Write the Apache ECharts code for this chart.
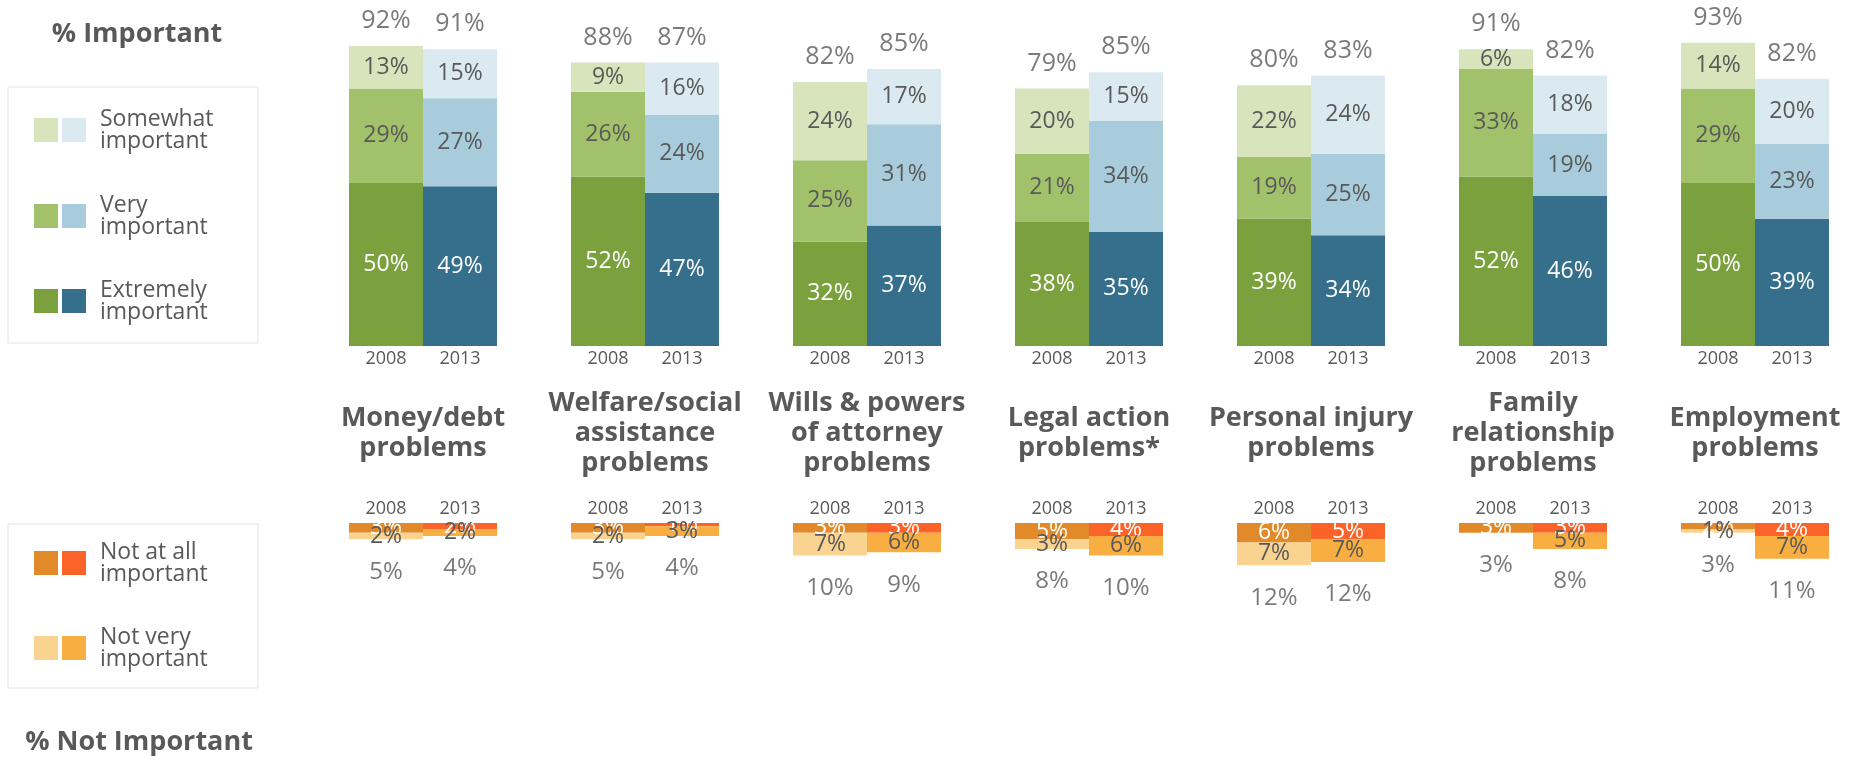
<!DOCTYPE html>
<html>
<head>
<meta charset="utf-8">
<script src="https://cdn.jsdelivr.net/npm/echarts@6/dist/echarts.min.js"></script>
<style>
  html, body { margin: 0; padding: 0; background: #fff; }
  #chart { width: 1862px; height: 759px; }
</style>
</head>
<body>
<div id="chart"></div>
<script>
// problem types (group titles)
const problems = [
  'Money/debt\nproblems',
  'Welfare/social\nassistance\nproblems',
  'Wills & powers\nof attorney\nproblems',
  'Legal action\nproblems*',
  'Personal injury\nproblems',
  'Family\nrelationship\nproblems',
  'Employment\nproblems'
];
const years = ['2008', '2013'];

// % important
const extreme2008 = [50, 52, 32, 38, 39, 52, 50];
const extreme2013 = [49, 47, 37, 35, 34, 46, 39];
const very2008 = [29, 26, 25, 21, 19, 33, 29];
const very2013 = [27, 24, 31, 34, 25, 19, 23];
const somewhat2008 = [13, 9, 24, 20, 22, 6, 14];
const somewhat2013 = [15, 16, 17, 15, 24, 18, 20];
const important2008 = [92, 88, 82, 79, 80, 91, 93];
const important2013 = [91, 87, 85, 85, 83, 82, 82];

// % not important
const notAtAll2008 = [3, 3, 3, 5, 6, 3, 2];
const notAtAll2013 = [2, 1, 3, 4, 5, 3, 4];
const notVery2008 = [2, 2, 7, 3, 7, 0, 1];
const notVery2013 = [2, 3, 6, 6, 7, 5, 7];
const notImportant2008 = [5, 5, 10, 8, 12, 3, 3];
const notImportant2013 = [4, 4, 9, 10, 12, 8, 11];

const GRAY = '#595959';
const FONT = '"Open Sans"';
const colors = {
  somewhat: ['#d8e4bc', '#dbeaf0'],
  very: ['#a2c16b', '#a8ccdc'],
  extreme: ['#7aa13e', '#366f8c'],
  notAtAll: ['#e28a2a', '#fc6329'],
  notVery: ['#fad390', '#f8ae40']
};

// slots: 2008, 2013, gap, 2008, 2013, gap ...
const slotCats = [];
problems.forEach((p, i) => {
  slotCats.push(years[0], years[1]);
  if (i < problems.length - 1) slotCats.push('');
});

function slots(a08, a13, pair) {
  const out = [];
  for (let i = 0; i < problems.length; i++) {
    out.push({ value: a08[i], itemStyle: { color: pair[0] } });
    out.push({ value: a13[i], itemStyle: { color: pair[1] } });
    if (i < problems.length - 1) out.push('-');
  }
  return out;
}
function sums(parts08, parts13) {
  const out = [];
  for (let i = 0; i < problems.length; i++) {
    out.push(parts08.reduce((s, a) => s + a[i], 0));
    out.push(parts13.reduce((s, a) => s + a[i], 0));
    if (i < problems.length - 1) out.push('-');
  }
  return out;
}
function texts(a08, a13) {
  const out = [];
  for (let i = 0; i < problems.length; i++) {
    out.push(a08[i] + '%', a13[i] + '%');
    if (i < problems.length - 1) out.push('');
  }
  return out;
}

const topTotals = texts(important2008, important2013);
const bottomTotals = texts(notImportant2008, notImportant2013);

function barSeries(name, stack, data, labelColor, xi) {
  return {
    name: name,
    type: 'bar',
    stack: stack,
    xAxisIndex: xi,
    yAxisIndex: xi,
    barWidth: '100%',
    data: data,
    label: {
      show: true,
      position: 'inside',
      color: labelColor,
      fontFamily: FONT,
      fontSize: 23,
      formatter: p => (p.value ? p.value + '%' : '')
    }
  };
}

const chart = echarts.init(document.getElementById('chart'));

const legendText = { fontFamily: FONT, fontSize: 23, fill: GRAY, lineHeight: 22 };
function legendRow(y, pair, text) {
  return [
    { type: 'rect', shape: { x: 34, y: y - 12, width: 24, height: 24 }, style: { fill: pair[0] } },
    { type: 'rect', shape: { x: 62, y: y - 12, width: 24, height: 24 }, style: { fill: pair[1] } },
    { type: 'text', x: 100, y: y, style: Object.assign({ text: text, verticalAlign: 'middle' }, legendText) }
  ];
}

const option = {
  animation: false,
  textStyle: { fontFamily: FONT },
  grid: [
    { left: 349, width: 1480, top: 20, height: 326, outerBoundsMode: 'none' },
    { left: 349, width: 1480, top: 523, height: 130, outerBoundsMode: 'none' },
    { left: 312, width: 1554, top: 0, height: 433, outerBoundsMode: 'none' }
  ],
  xAxis: [
    {
      type: 'category', gridIndex: 0, data: slotCats,
      axisLine: { show: false }, axisTick: { show: false },
      axisLabel: { interval: 0, margin: 4, color: GRAY, fontFamily: FONT, fontSize: 18 }
    },
    {
      type: 'category', gridIndex: 1, data: slotCats, position: 'top',
      axisLine: { show: false }, axisTick: { show: false },
      axisLabel: { interval: 0, margin: 5, color: GRAY, fontFamily: FONT, fontSize: 18 }
    },
    {
      type: 'category', gridIndex: 2, data: problems,
      axisLine: { show: false }, axisTick: { show: false },
      axisLabel: {
        interval: 0, margin: 0, verticalAlign: 'middle', lineHeight: 30,
        color: GRAY, fontFamily: FONT, fontSize: 27, fontWeight: 'bold'
      }
    }
  ],
  yAxis: [
    { type: 'value', gridIndex: 0, min: 0, max: 100, show: false },
    { type: 'value', gridIndex: 1, min: 0, max: 40, inverse: true, show: false },
    { type: 'value', gridIndex: 2, min: 0, max: 1, show: false }
  ],
  series: [
    barSeries('Extremely important', 'imp', slots(extreme2008, extreme2013, colors.extreme), '#ffffff', 0),
    barSeries('Very important', 'imp', slots(very2008, very2013, colors.very), GRAY, 0),
    barSeries('Somewhat important', 'imp', slots(somewhat2008, somewhat2013, colors.somewhat), GRAY, 0),
    {
      name: 'Important total',
      type: 'scatter',
      xAxisIndex: 0, yAxisIndex: 0,
      symbolSize: 1,
      itemStyle: { color: 'transparent' },
      data: sums([extreme2008, very2008, somewhat2008], [extreme2013, very2013, somewhat2013]),
      label: {
        show: true, position: 'top', distance: 12,
        color: GRAY, fontFamily: FONT, fontSize: 25,
        formatter: p => topTotals[p.dataIndex]
      }
    },
    barSeries('Not at all important', 'not', slots(notAtAll2008, notAtAll2013, colors.notAtAll), '#ffffff', 1),
    barSeries('Not very important', 'not', slots(notVery2008, notVery2013, colors.notVery), GRAY, 1),
    {
      name: 'Not important total',
      type: 'scatter',
      xAxisIndex: 1, yAxisIndex: 1,
      symbolSize: 1,
      itemStyle: { color: 'transparent' },
      data: sums([notAtAll2008, notVery2008], [notAtAll2013, notVery2013]),
      label: {
        show: true, position: 'bottom', distance: 20,
        color: GRAY, fontFamily: FONT, fontSize: 24,
        formatter: p => bottomTotals[p.dataIndex]
      }
    }
  ],
  graphic: [
    { type: 'text', x: 137, y: 34, style: { text: '% Important', fontFamily: FONT, fontSize: 27, fontWeight: 'bold', fill: GRAY, align: 'center', verticalAlign: 'middle' } },
    { type: 'rect', shape: { x: 8, y: 87, width: 250, height: 256 }, style: { fill: 'none', stroke: '#e3e3e3', lineWidth: 1 } },
    ...legendRow(130, colors.somewhat, 'Somewhat\nimportant'),
    ...legendRow(216, colors.very, 'Very\nimportant'),
    ...legendRow(301, colors.extreme, 'Extremely\nimportant'),
    { type: 'rect', shape: { x: 8, y: 524, width: 250, height: 164 }, style: { fill: 'none', stroke: '#e3e3e3', lineWidth: 1 } },
    ...legendRow(563, colors.notAtAll, 'Not at all\nimportant'),
    ...legendRow(648, colors.notVery, 'Not very\nimportant'),
    { type: 'text', x: 139, y: 742, style: { text: '% Not Important', fontFamily: FONT, fontSize: 27, fontWeight: 'bold', fill: GRAY, align: 'center', verticalAlign: 'middle' } }
  ]
};

chart.setOption(option);
</script>
</body>
</html>
